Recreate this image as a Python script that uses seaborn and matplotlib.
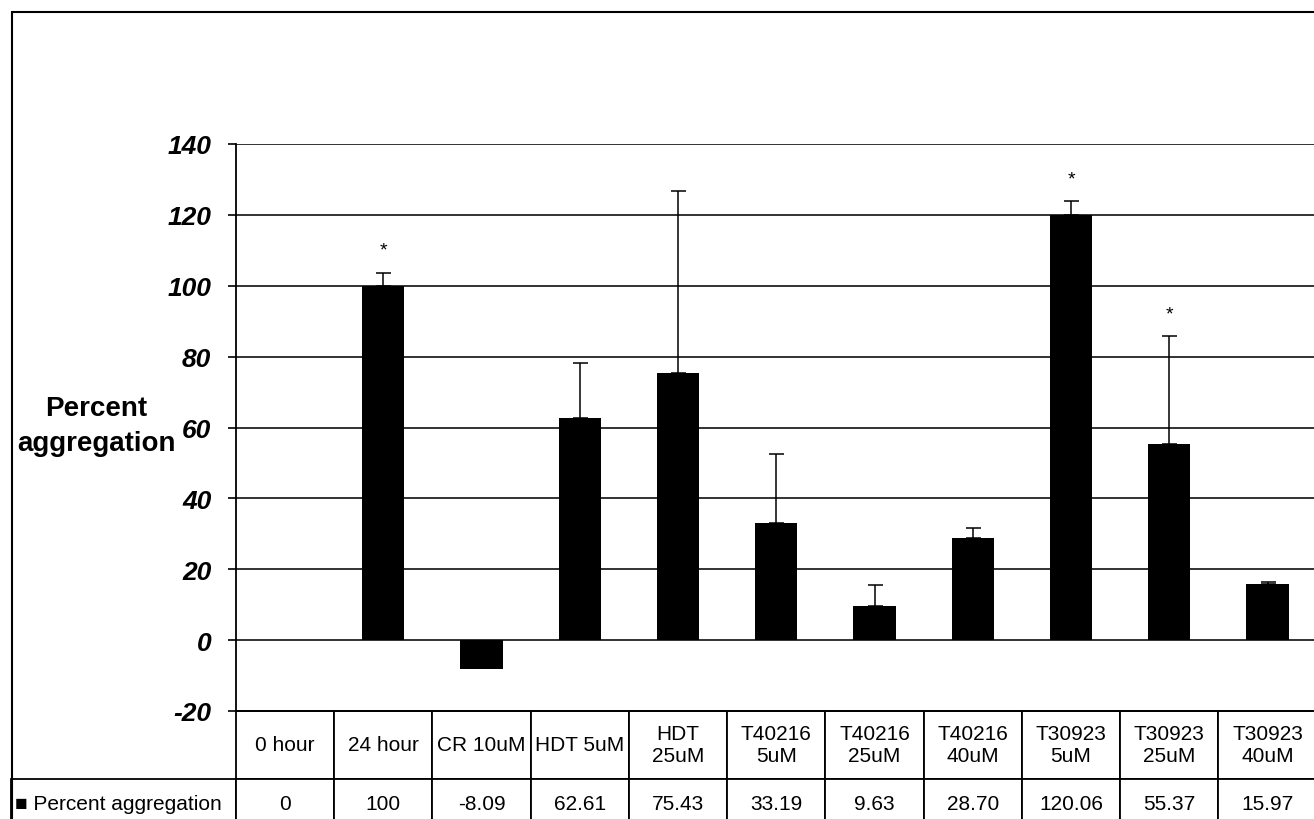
import matplotlib as mpl
mpl.use('Agg')
import matplotlib.pyplot as plt
from matplotlib.patches import Rectangle
import numpy as np
import pandas as pd
import seaborn as sns

categories = ['0 hour', '24 hour', 'CR 10uM', 'HDT 5uM', 'HDT\n25uM',
              'T40216\n5uM', 'T40216\n25uM', 'T40216\n40uM',
              'T30923\n5uM', 'T30923\n25uM', 'T30923\n40uM']
values = [0, 100, -8.09, 62.61, 75.43, 33.19, 9.63, 28.70, 120.06, 55.37, 15.97]
value_labels = ['0', '100', '-8.09', '62.61', '75.43', '33.19', '9.63',
                '28.70', '120.06', '55.37', '15.97']
# upper error only
errors = [0, 3.6, 0, 15.6, 51.3, 19.3, 5.9, 2.9, 3.8, 30.4, 0.4]
significant = [False, True, False, False, False, False, False, False, True, True, False]
yticks = [-20, 0, 20, 40, 60, 80, 100, 120, 140]
series_name = 'Percent aggregation'


def save_graph():
    df = pd.DataFrame({'group': categories, 'pct': values})

    sns.set_style('white')
    plt.rcParams['font.family'] = ['Liberation Sans', 'DejaVu Sans']
    plt.rcParams['text.color'] = 'black'
    plt.rcParams['axes.labelcolor'] = 'black'

    fig = plt.figure(figsize=(13.14, 8.2), dpi=100)
    ax = fig.add_axes([236/1314, 108/820, 1078/1314 + 0.002, 567/820])

    sns.barplot(data=df, x='group', y='pct', color='black', saturation=1,
                width=0.43, linewidth=0, ax=ax, zorder=3)

    xs = np.array([p.get_x() + p.get_width()/2 for p in ax.patches])
    val = np.array(values)
    err = np.array(errors)
    has = err > 0
    ax.errorbar(xs[has], val[has], yerr=[np.zeros(has.sum()), err[has]], fmt='none',
                ecolor='black', elinewidth=1.1, capsize=5.4, capthick=1.1, zorder=4)

    for x, v, e, s in zip(xs, values, errors, significant):
        if s:
            ax.annotate('*', (x, v + e), xytext=(0, 13), textcoords='offset points',
                        ha='center', va='baseline', fontsize=14)

    # errorbar re-enables autoscaling, so pin the category range again
    ax.set_xlim(-0.5, len(categories) - 0.5)
    ax.set_ylim(-20, 140)
    ax.set_yticks(yticks)
    ax.set_yticklabels([str(t) for t in yticks], fontsize=19,
                       fontweight='bold', fontstyle='italic')
    ax.tick_params(axis='y', left=True, length=5.8, width=1.2, pad=12,
                   direction='out', color='black', labelcolor='black')
    ax.tick_params(axis='x', bottom=False, labelbottom=False)
    ax.set_xlabel('')
    ax.yaxis.grid(True, color='#222222', linewidth=1.3, zorder=0)
    ax.set_axisbelow(True)
    for s in ['top', 'right']:
        ax.spines[s].set_visible(False)
    for s in ['left', 'bottom']:
        ax.spines[s].set_color('black')
        ax.spines[s].set_linewidth(1.3)

    ax.set_ylabel('Percent\naggregation', rotation=0, fontsize=20,
                  fontweight='bold', ha='center', va='center', linespacing=1.45)
    ax.yaxis.set_label_coords(-0.129, 0.504)

    tbl = ax.table(cellText=[value_labels], colLabels=categories,
                   cellLoc='center', bbox=[0, -0.208, 1, 0.208])
    tbl.add_cell(1, -1, width=224/1078, height=50,
                 text='\u25a0 ' + series_name, loc='left')
    tbl.auto_set_font_size(False)
    tbl.set_fontsize(15)
    for (r, c), cell in tbl.get_celld().items():
        cell.set_height(68 if r == 0 else 50)
        cell.set_linewidth(1.3)
        cell.set_edgecolor('black')
    tbl[1, -1].PAD = 0.015

    # outer frame of the exported chart
    fig.add_artist(Rectangle((12/1314, -0.1), 1.2, 1 - 13/820 + 0.1,
                             transform=fig.transFigure, fill=False,
                             ec='black', lw=1.5))

    fig.savefig('out.png', dpi=100)


if __name__ == "__main__":
    save_graph()
